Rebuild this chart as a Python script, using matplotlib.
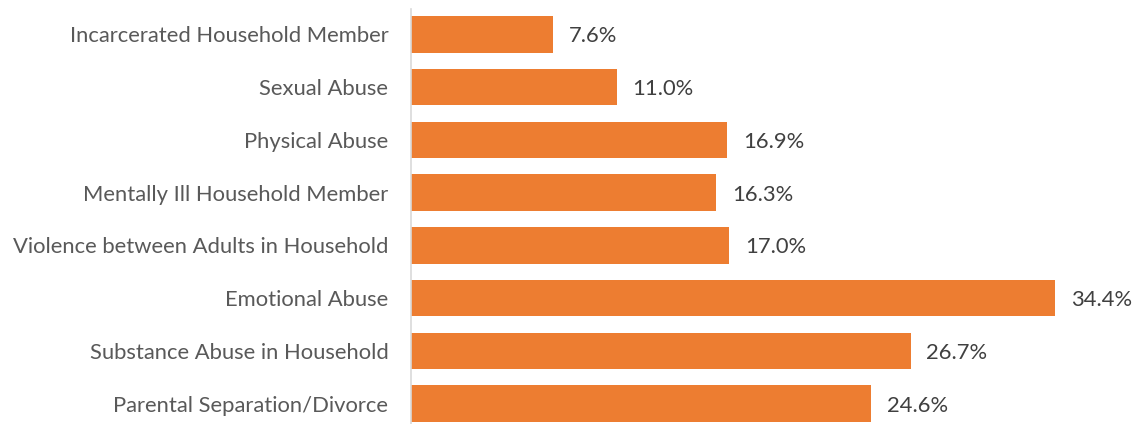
import matplotlib
matplotlib.use("Agg")
import matplotlib.pyplot as plt

categories = [
    "Incarcerated Household Member",
    "Sexual Abuse",
    "Physical Abuse",
    "Mentally Ill Household Member",
    "Violence between Adults in Household",
    "Emotional Abuse",
    "Substance Abuse in Household",
    "Parental Separation/Divorce",
]
values = [7.6, 11.0, 16.9, 16.3, 17.0, 34.4, 26.7, 24.6]
value_labels = ["7.6%", "11.0%", "16.9%", "16.3%", "17.0%", "34.4%", "26.7%", "24.6%"]

BAR_COLOR = "#ED7D31"
LABEL_COLOR = "#595959"
VALUE_COLOR = "#404040"
FONT = ["Lato", "DejaVu Sans"]
FS = 15.8

W, H, DPI = 1137, 424, 100
fig = plt.figure(figsize=(W / DPI, H / DPI), dpi=DPI)
fig.patch.set_facecolor("white")

# axes placed in pixel terms (bottom row runs slightly past the canvas edge)
ax_left, ax_top, ax_bottom = 410.7, 9.3, 430.0
x_max = 36.0
px_per_unit = 18.72
ax = fig.add_axes([
    ax_left / W,
    (H - ax_bottom) / H,
    x_max * px_per_unit / W,
    (ax_bottom - ax_top) / H,
])

y = list(range(len(categories)))
ax.barh(y, values, height=0.69, color=BAR_COLOR, left=0)

ax.set_xlim(0, x_max)
ax.set_ylim(len(categories) - 0.5, -0.474)

ax.set_yticks(y)
ax.set_yticklabels(categories, fontsize=FS, color=LABEL_COLOR, family=FONT)
ax.tick_params(axis="y", length=0, pad=16)
ax.set_xticks([])

for side in ["top", "right", "bottom"]:
    ax.spines[side].set_visible(False)
ax.spines["left"].set_color("#D9D9D9")
ax.spines["left"].set_linewidth(1.2)

for yi, v, lab in zip(y, values, value_labels):
    ax.annotate(lab, xy=(v, yi), xytext=(11.5, -1.5), textcoords="offset points",
                ha="left", va="center", fontsize=FS, color=VALUE_COLOR, family=FONT)

fig.savefig("out.png", dpi=DPI, facecolor="white")
